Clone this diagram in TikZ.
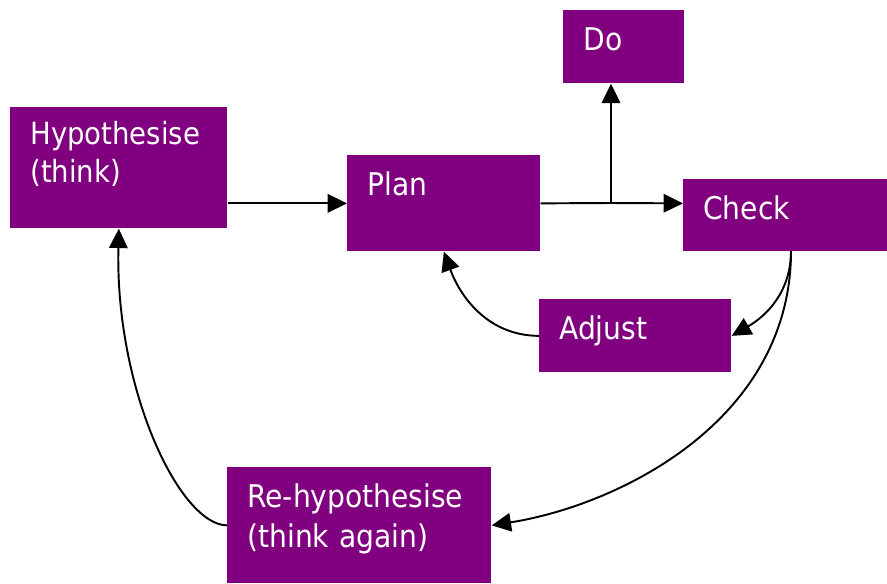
\documentclass[tikz,border=0pt]{standalone}
\usepackage{fontspec}
\setmainfont{DejaVu Sans Condensed}
\usetikzlibrary{arrows.meta}
\definecolor{boxpurple}{RGB}{128,0,128}
\newcommand\px{0.02cm}
\begin{document}
\begin{tikzpicture}[x=0.02cm, y=-0.02cm]

      \tikzset{stepbox/.style 2 args={fill=boxpurple, text=white, anchor=north west, align=left,
          inner xsep=20*\px, inner ysep=0pt, text width=#1*\px-40*\px,
          text height=40*\px, text depth=#2*\px-40*\px, font=\fontsize{17.8}{22.8}\selectfont},
        link/.style={line width=1.1pt, -{Triangle[length=11pt, width=10.5pt]}}}
      \useasboundingbox (0,0) rectangle (887,583);
% Boxes
      	\node[stepbox={217}{121}, font=\fontsize{17.4}{21.6}\selectfont,
      	  text height=37*\px, text depth=84*\px] (hyp) at (10,107) {Hypothesise\\(think)};
      	\node[stepbox={193}{96}] (plan) at (347,155) {Plan};
      	\node[stepbox={121}{73}] (do) at (563,10) {Do};
      	\node[stepbox={204}{72}] (check) at (683,179) {Check};
      	\node[stepbox={192}{73}] (adjust) at (539,299) {Adjust};
      	\node[stepbox={264}{116}] (rehyp) at (227,467) {Re-hypothesise\\(think again)};
      	\coordinate (fork) at (611,203);
      	\coordinate (chk) at (791,251);
%Arrows
		\draw[link] (plan.west -| hyp.east) -- (plan.west);
		\draw[line width=1.1pt] (plan.east) -- (fork);
		\draw[link] (fork) -- (plan.east -| check.west);
		\draw[link] (fork) -- (fork |- do.south);
		\draw[link] (chk) to[out=-90, in=30] (adjust.east);
		\draw[link] (chk) .. controls (791,420) and (620,505) .. (rehyp.east);
		\draw[link] (adjust.west) to[out=180, in=-70] (plan.south);
		\draw[link] (rehyp.west) .. controls (180,525) and (115,390) .. (hyp.south);

	\end{tikzpicture}
\end{document}
